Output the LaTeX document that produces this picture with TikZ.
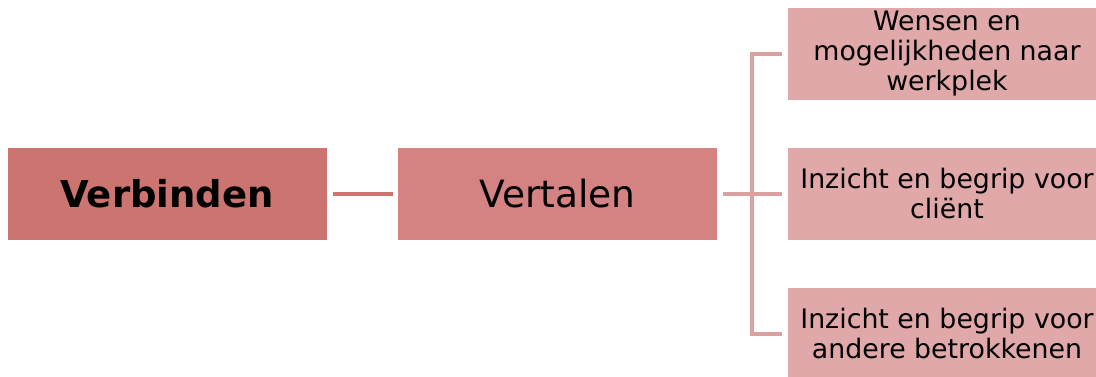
\documentclass[tikz,border=0pt]{standalone}
\usepackage{fontspec}
\setmainfont{DejaVu Sans}
\definecolor{rootfill}{HTML}{CB7470}
\definecolor{midfill}{HTML}{D48282}
\definecolor{leaffill}{HTML}{E0A8A8}
\definecolor{linkdark}{HTML}{CB7470}
\definecolor{linklight}{HTML}{DCA0A0}
\tikzset{
  box/.style={rectangle, draw=white, line width=0.8pt, minimum width=320pt,
    minimum height=93pt, inner sep=0pt, outer sep=0pt, align=center, text=black},
  rootbox/.style={box, fill=rootfill, font=\fontsize{37}{41}\selectfont\bfseries},
  midbox/.style={box, fill=midfill, font=\fontsize{37.5}{41}\selectfont},
  leafbox/.style={box, fill=leaffill, font=\fontsize{26.8}{30}\selectfont},
  link/.style={line width=4pt, line join=miter}
}
\begin{document}
\begin{tikzpicture}[x=1pt, y=-1pt]
  \useasboundingbox (0,0) rectangle (1096,376);
  \clip (0,0) rectangle (1096,376);

  \node[rootbox] (verb) at (167,193.5) {Verbinden};
  \node[midbox]  (vert) at (557.5,193.5) {Vertalen};
  \node[leafbox] (w1) at (947,53.5) {Wensen en\\mogelijkheden naar\\werkplek};
  \node[leafbox] (w2) at (947,193.5) {Inzicht en begrip voor\\cliënt};
  \node[leafbox] (w3) at (947,333.5) {Inzicht en begrip voor\\andere betrokkenen};

  \coordinate (fork) at (751.5,193.5);

  \draw[link, linkdark] ([xshift=6pt]verb.east) -- ([xshift=-5pt]vert.west);
  \draw[link, linklight] ([xshift=5pt]vert.east) -- ([xshift=-5pt]w2.west);
  \draw[link, linklight] ([xshift=-5pt]w1.west) -| (fork) |- ([xshift=-5pt]w3.west);
\end{tikzpicture}
\end{document}
